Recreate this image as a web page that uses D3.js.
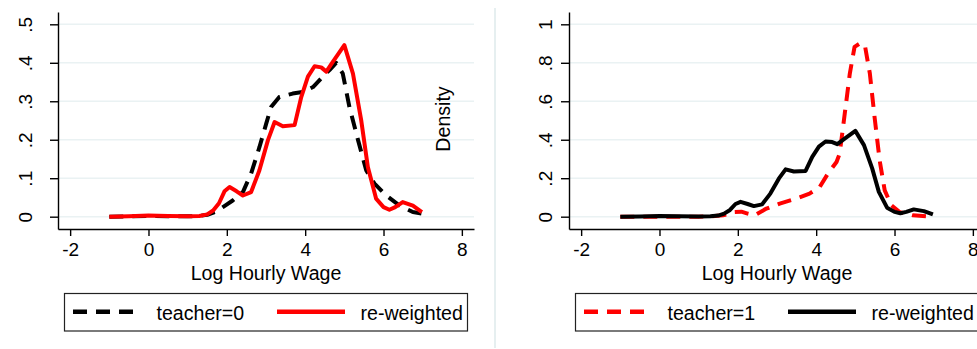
<!DOCTYPE html>
<html>
<head>
<meta charset="utf-8">
<script src="https://cdn.jsdelivr.net/npm/d3@7"></script>
<style>
  html, body { margin: 0; padding: 0; background: #fff; }
  svg { display: block; font-family: "Liberation Sans", Arial, Helvetica, sans-serif; }
</style>
</head>
<body>
<svg id="chart" width="977" height="349"></svg>
<script>
// Kernel density estimates of log hourly wage
const wageTeacher0 = [-1, -0.5, 0, 0.5, 1, 1.3, 1.5, 1.7, 1.9, 2.15, 2.41, 2.62, 2.83, 3.0, 3.13, 3.34, 3.68, 3.94, 4.2, 4.45, 4.62, 4.79, 4.96, 5.13, 5.35, 5.56, 5.77, 6.07, 6.41, 6.75, 6.99];
const densTeacher0 = [0, 0.001, 0.002, 0.001, 0.001, 0.002, 0.005, 0.012, 0.025, 0.042, 0.064, 0.112, 0.18, 0.24, 0.285, 0.311, 0.32, 0.324, 0.337, 0.364, 0.381, 0.40, 0.372, 0.285, 0.199, 0.12, 0.086, 0.055, 0.029, 0.012, 0.008];

const wageTeacher1 = [-1, -0.5, 0, 0.5, 1, 1.3, 1.62, 1.8, 1.92, 2.09, 2.25, 2.43, 2.73, 3.07, 3.49, 3.83, 4.09, 4.3, 4.52, 4.6, 4.73, 4.86, 4.98, 5.11, 5.24, 5.37, 5.49, 5.62, 5.75, 5.92, 6.13, 6.47, 6.98];
const densTeacher1 = [0, 0, 0, 0, 0, 0.001, 0.007, 0.015, 0.024, 0.026, 0.016, 0.007, 0.042, 0.068, 0.094, 0.12, 0.154, 0.224, 0.284, 0.328, 0.536, 0.745, 0.883, 0.9, 0.895, 0.745, 0.519, 0.293, 0.137, 0.059, 0.024, 0.007, 0];

const wageReweighted = [-1, -0.5, 0, 0.5, 1, 1.3, 1.5, 1.65, 1.8, 1.94, 2.07, 2.25, 2.41, 2.62, 2.83, 3.05, 3.22, 3.43, 3.73, 3.9, 4.07, 4.24, 4.41, 4.54, 4.71, 4.86, 5.0, 5.22, 5.43, 5.6, 5.81, 6.0, 6.15, 6.3, 6.49, 6.75, 6.98];
const densReweighted = [0, 0.001, 0.003, 0.002, 0.001, 0.002, 0.006, 0.016, 0.035, 0.066, 0.077, 0.066, 0.055, 0.064, 0.12, 0.199, 0.246, 0.235, 0.238, 0.311, 0.364, 0.391, 0.388, 0.377, 0.403, 0.425, 0.446, 0.372, 0.251, 0.129, 0.047, 0.025, 0.018, 0.025, 0.038, 0.029, 0.012];

const xTicks = [-2, 0, 2, 4, 6, 8];
const yTicksLeft = [0, 0.1, 0.2, 0.3, 0.4, 0.5];
const yTickLabelsLeft = ["0", ".1", ".2", ".3", ".4", ".5"];
const yTicksRight = [0, 0.2, 0.4, 0.6, 0.8, 1];
const yTickLabelsRight = ["0", ".2", ".4", ".6", ".8", "1"];

const xTitle = "Log Hourly Wage";
const legendLeft = ["teacher=0", "re-weighted"];
const legendRight = ["teacher=1", "re-weighted"];

const svg = d3.select("#chart");
const RED = "#ff0000", BLACK = "#000000", GRID = "#eaf2f3";
const DASH = "14,9";
const FONT = "Liberation Sans, Arial, sans-serif";

function toPoints(xs, ys) { return xs.map((x, i) => [x, ys[i]]); }

function drawPanel(opt) {
  const g = svg.append("g").attr("transform", `translate(${opt.dx},0)`);
  const left = 58, right = 474, top = 12, bottom = 229;

  const x = d3.scaleLinear().domain([-2.31, 8.31]).range([left, right]);
  const pad = opt.yMax * 0.064;
  const y = d3.scaleLinear().domain([-pad, opt.yMax + pad]).range([bottom, top]);

  // horizontal gridlines
  g.append("g").selectAll("line").data(opt.yTicks).join("line")
    .attr("x1", left).attr("x2", right)
    .attr("y1", d => y(d)).attr("y2", d => y(d))
    .attr("stroke", GRID).attr("stroke-width", 1.6);

  // y axis with rotated labels
  const yAxis = d3.axisLeft(y).tickValues(opt.yTicks)
    .tickFormat((d, i) => opt.yLabels[i]).tickSize(8).tickSizeOuter(0);
  const ya = g.append("g").attr("transform", `translate(${left},0)`).call(yAxis);
  ya.select(".domain").attr("stroke", BLACK).attr("stroke-width", 1.4);
  ya.selectAll(".tick line").attr("stroke", BLACK).attr("stroke-width", 1.4);
  ya.selectAll(".tick text")
    .attr("x", 0).attr("dy", null).attr("y", -opt.yLabelGap)
    .attr("transform", "rotate(-90)")
    .attr("text-anchor", "middle")
    .attr("fill", BLACK)
    .style("font-size", "19px").style("font-family", FONT);

  // x axis
  const xAxis = d3.axisBottom(x).tickValues(xTicks).tickFormat(d => String(d))
    .tickSize(7).tickSizeOuter(0).tickPadding(7);
  const xa = g.append("g").attr("transform", `translate(0,${bottom})`).call(xAxis);
  xa.select(".domain").attr("stroke", BLACK).attr("stroke-width", 1.4);
  xa.selectAll(".tick line").attr("stroke", BLACK).attr("stroke-width", 1.4);
  xa.selectAll(".tick text").attr("fill", BLACK)
    .style("font-size", "19px").style("font-family", FONT);

  g.append("text").attr("x", (left + right) / 2).attr("y", 279.5)
    .attr("text-anchor", "middle").attr("fill", BLACK)
    .style("font-size", "19.6px").text(xTitle);

  if (opt.yTitle) {
    g.append("text").attr("transform", `translate(450,119) rotate(-90)`)
      .attr("text-anchor", "middle").attr("fill", BLACK)
      .style("font-size", "19.6px").text(opt.yTitle);
  }

  const line = d3.line().x(d => x(d[0])).y(d => y(d[1])).curve(d3.curveLinear);

  opt.series.forEach(s => {
    g.append("path").datum(toPoints(s.xs, s.ys))
      .attr("d", line).attr("fill", "none")
      .attr("stroke", s.color).attr("stroke-width", 4)
      .attr("stroke-linejoin", "round")
      .attr("stroke-dasharray", s.dashed ? DASH : null);
  });

  // legend
  const lg = g.append("g");
  lg.append("rect").attr("x", 64.5).attr("y", 293.5).attr("width", 403).attr("height", 37.5)
    .attr("fill", "#fff").attr("stroke", "#222").attr("stroke-width", 1.2);
  const keys = [
    { x1: 73, x2: 135, tx: 156.5 },
    { x1: 277, x2: 345, tx: 360.5 }
  ];
  opt.series.forEach((s, i) => {
    lg.append("line").attr("x1", keys[i].x1).attr("x2", keys[i].x2)
      .attr("y1", 311.7).attr("y2", 311.7)
      .attr("stroke", s.color).attr("stroke-width", 4.5)
      .attr("stroke-dasharray", s.dashed ? DASH : null);
    lg.append("text").attr("x", keys[i].tx).attr("y", 319.8)
      .attr("fill", BLACK).style("font-size", "19.6px").text(opt.legend[i]);
  });
}

drawPanel({
  dx: 0, yMax: 0.5, yTicks: yTicksLeft, yLabels: yTickLabelsLeft, yLabelGap: 26,
  yTitle: "Density", legend: legendLeft,
  series: [
    { xs: wageTeacher0, ys: densTeacher0, color: BLACK, dashed: true },
    { xs: wageReweighted, ys: densReweighted, color: RED, dashed: false }
  ]
});

drawPanel({
  dx: 511, yMax: 1, yTicks: yTicksRight, yLabels: yTickLabelsRight, yLabelGap: 17,
  yTitle: null, legend: legendRight,
  series: [
    { xs: wageTeacher1, ys: densTeacher1, color: RED, dashed: true },
    { xs: wageReweighted, ys: densReweighted, color: BLACK, dashed: false }
  ]
});

// divider between the two panels
svg.append("line").attr("x1", 495).attr("x2", 495).attr("y1", 8).attr("y2", 348)
  .attr("stroke", "#e6eff0").attr("stroke-width", 2);
</script>
</body>
</html>
